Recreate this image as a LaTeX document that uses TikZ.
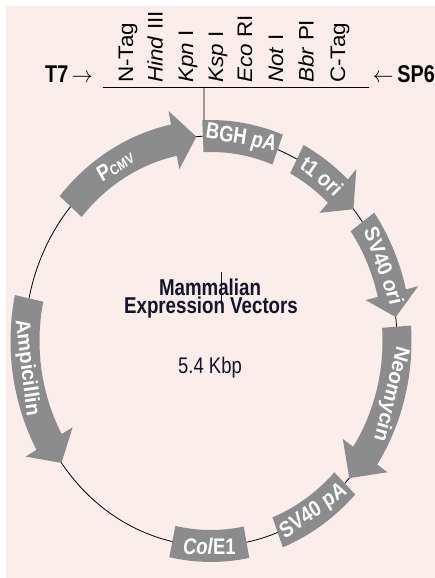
\documentclass[tikz,border=0pt]{standalone}
\usepackage{fontspec}
\setmainfont{Liberation Sans}[FakeStretch=0.9]
\newfontfamily\sitefont{Liberation Sans}[FakeStretch=0.97]
\definecolor{bgpink}{HTML}{FBEEEA}
\definecolor{featgray}{HTML}{8C8C8C}
\definecolor{inkdark}{HTML}{14142A}
% gene feature drawn as a curved arrow: tail angle, head base angle, tip angle
\newcommand{\featarrow}[3]{%
  \path[feat] (#1:200.5) arc[start angle=#1, end angle=#2, radius=200.5]
    -- (#2:213) -- (#3:186) -- (#2:159) -- (#2:171.5)
    arc[start angle=#2, end angle=#1, radius=171.5] -- cycle;}
% gene feature drawn as a curved box between two angles
\newcommand{\featbox}[2]{%
  \path[feat] (#1:200.5) arc[start angle=#1, end angle=#2, radius=200.5]
    -- (#2:171.5) arc[start angle=#2, end angle=#1, radius=171.5] -- cycle;}
\begin{document}
\begin{tikzpicture}[x=1pt, y=1pt,
  feat/.style={fill=featgray, draw=none},
  flabel/.style={text=white, inner sep=0pt, font=\fontsize{20.5}{20.5}\selectfont\bfseries},
  site/.style={text=black, inner sep=0pt, rotate=90, anchor=west, font=\sitefont\fontsize{21}{21}\selectfont},
  promoter/.style={text=black, inner sep=0pt, font=\fontsize{22}{22}\selectfont\bfseries},
  centre/.style={text=inkdark, inner sep=0pt, anchor=base, font=\fontsize{20.8}{20.8}\selectfont\bfseries}]
\useasboundingbox (0,0) rectangle (435,578);
\fill[bgpink] (6,0) rectangle (435,572);

\begin{scope}[shift={(211,237)}, yscale=1.102, transform shape]
  % plasmid backbone
  \draw[line width=0.8pt] (0,0) circle[radius=186];

  % features
  \featarrow{139}{101.5}{94.5}   % P_CMV
  \featbox{92.5}{69}             % BGH pA
  \featarrow{62.5}{47}{40}       % t1 ori
  \featarrow{35.5}{13.5}{6.7}    % SV40 ori
  \featarrow{4}{-34}{-42}        % Neomycin
  \featbox{-44}{-69}             % SV40 pA
  \featbox{-79}{-102}            % ColE1
  \featarrow{168}{209.5}{216.5}  % Ampicillin

  % feature labels
  \node[flabel, rotate=31] (lpcmv) at (121:186) {P\raisebox{-1pt}{\fontsize{13}{13}\selectfont CMV}};
  \node[flabel, rotate=-9.5] (lbgh) at (80.75:186) {BGH \textit{pA}};
  \node[flabel, rotate=-37] (lt1) at (53.5:186) {t1 \textit{ori}};
  \node[flabel, rotate=-68.5] (lsvori) at (21.5:186) {SV40 \textit{ori}};
  \node[flabel, rotate=-105] (lneo) at (-15:186) {Neomycin};
  \node[flabel, rotate=33.5] (lsvpa) at (-56.5:186) {SV40 pA};
  \node[flabel, rotate=0] (lcol) at (-90.5:186) {\textit{Col}E1};
  \node[flabel, rotate=-82.5] (lamp) at (187.5:186) {Ampicillin};

  % multiple cloning site
  \coordinate (mcsl) at (-108,230.5);
  \coordinate (mcsr) at (158,230.5);
  \coordinate (mcsm) at (-7,230.5);
  \coordinate (bghtop) at (92:200.5);
  \draw[line width=0.8pt] (mcsl) -- (mcsr);
  \draw[line width=0.8pt] (mcsm) -- (bghtop);

  \node[site] (sntag) at (-83,234) {N-Tag};
  \node[site] (shind) at (-56,234) {\textit{Hind} III};
  \node[site] (skpn)  at (-23,234) {\textit{Kpn} I};
  \node[site] (sksp)  at (7,234)   {\textit{Ksp} I};
  \node[site] (seco)  at (34,234)  {\textit{Eco} RI};
  \node[site] (snot)  at (65,234)  {\textit{Not} I};
  \node[site] (sbbr)  at (95,234)  {\textit{Bbr} PI};
  \node[site] (sctag) at (129,234) {C-Tag};

  \node[promoter, anchor=base west] (t7) at (-166,235) {T7\,$\rightarrow$};
  \node[promoter, anchor=base east] (sp6) at (224,235) {$\leftarrow$\,SP6};

  % title in the middle
  \node[centre] (title1) at (-1,41.7) {Mammalian};
  \node[centre] (title2) at (0,25.4) {Expression Vectors};
  \node[centre, font=\fontsize{20.5}{20.5}\selectfont] (size) at (-1,-29.9) {5.4 Kbp};
  \draw[inkdark, line width=0.6pt] (10,62.6) -- (10,34.5);
\end{scope}
\end{tikzpicture}
\end{document}
